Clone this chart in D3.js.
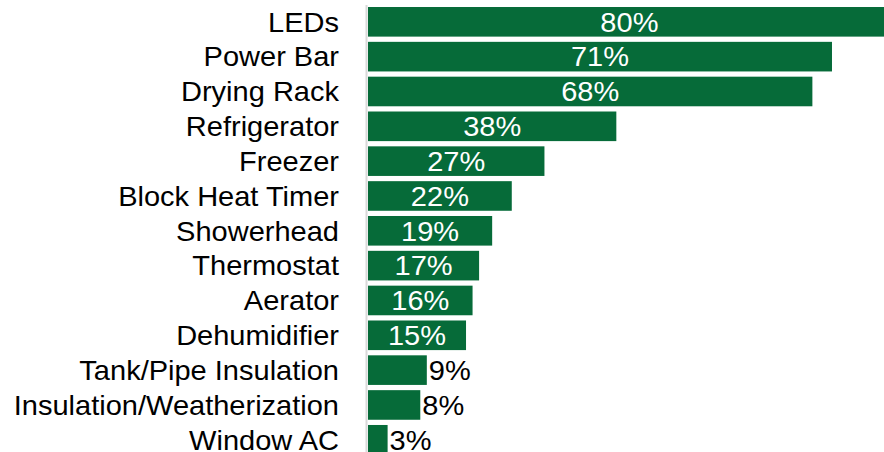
<!DOCTYPE html>
<html>
<head>
<meta charset="utf-8">
<script src="https://cdn.jsdelivr.net/npm/d3@7"></script>
<style>
  html, body { margin: 0; padding: 0; background: #fff; }
  svg { display: block; font-family: "Liberation Sans", Arial, sans-serif; }
</style>
</head>
<body>
<svg id="chart" width="884" height="452"></svg>
<script>
// Share of participants per measure (percent)
const measures = [
  "LEDs", "Power Bar", "Drying Rack", "Refrigerator", "Freezer",
  "Block Heat Timer", "Showerhead", "Thermostat", "Aerator",
  "Dehumidifier", "Tank/Pipe Insulation", "Insulation/Weatherization", "Window AC"
];
const shares = [80, 71, 68, 38, 27, 22, 19, 17, 16, 15, 9, 8, 3];

const W = 884, H = 452;
const FONT = 27, STRETCH = 1.075;
const svg = d3.select("#chart");

const x = d3.scaleLinear().domain([0, 80]).range([368, 890.8]);
const y = d3.scaleBand()
  .domain(measures)
  .range([4.4, 457.2])
  .paddingInner(0.15)
  .paddingOuter(0.075);

const rows = measures.map((m, i) => ({ name: m, value: shares[i] }));
const cy = d => y(d.name) + y.bandwidth() / 2;

// Bars
svg.append("g")
  .selectAll("rect")
  .data(rows)
  .join("rect")
  .attr("x", x(0))
  .attr("y", d => y(d.name))
  .attr("width", d => x(d.value) - x(0))
  .attr("height", y.bandwidth())
  .attr("fill", "#066b39");

// Vertical baseline
svg.append("line")
  .attr("x1", 366.5).attr("x2", 366.5)
  .attr("y1", 5).attr("y2", H)
  .attr("stroke", "#d9d9d9")
  .attr("stroke-width", 2);

// Text is drawn slightly wide; each label is scaled horizontally about its anchor point
const wide = (ax, ay) => `translate(${ax},${ay}) scale(${STRETCH},1)`;

// Category labels
svg.append("g")
  .selectAll("text")
  .data(rows)
  .join("text")
  .attr("transform", d => wide(339, cy(d)))
  .attr("dy", "0.36em")
  .attr("text-anchor", "end")
  .attr("font-size", FONT)
  .attr("fill", "#000")
  .text(d => d.name);

// Value labels: centered inside long bars, just past the end of short ones
const inside = d => d.value >= 15;
svg.append("g")
  .selectAll("text")
  .data(rows)
  .join("text")
  .attr("transform", d => wide(inside(d) ? (x(0) + x(d.value)) / 2 : x(d.value) + 2, cy(d)))
  .attr("dy", "0.36em")
  .attr("text-anchor", d => inside(d) ? "middle" : "start")
  .attr("font-size", FONT)
  .attr("fill", d => inside(d) ? "#fff" : "#000")
  .text(d => d.value + "%");
</script>
</body>
</html>
